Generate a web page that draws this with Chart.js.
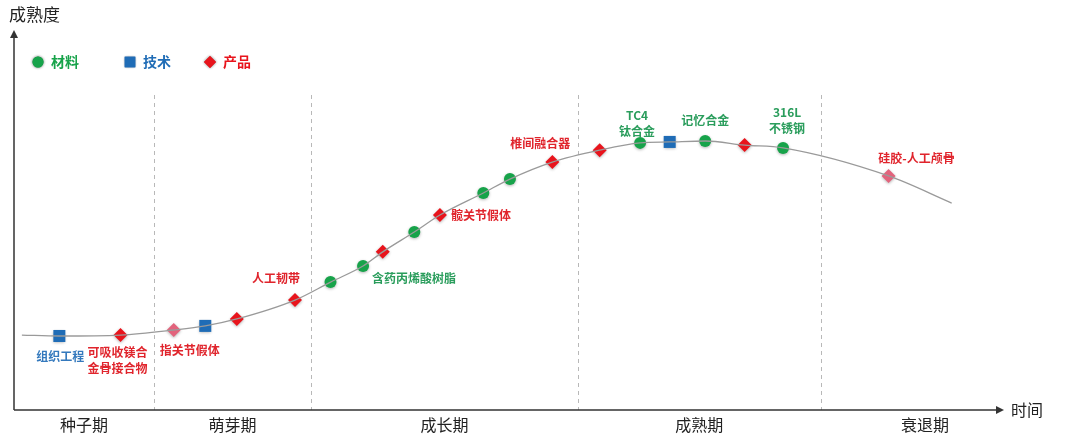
<!DOCTYPE html>
<html>
<head>
<meta charset="utf-8">
<title>成熟度曲线</title>
<script src="https://cdn.jsdelivr.net/npm/chart.js@4/dist/chart.umd.min.js"></script>
<style>
  html, body { margin: 0; padding: 0; background: #fff; }
  #wrap { width: 1080px; height: 443px; position: relative; }
</style>
</head>
<body>
<div id="wrap"><canvas id="lifeChart"></canvas></div>
<script>
// curve (x = time, y = maturity, both 0..100)
const curveX = [0.8, 4.6, 10.8, 16.2, 19.4, 22.6, 28.5, 32.1, 35.4, 37.4, 40.6, 43.2, 47.6, 50.3, 54.6, 59.4, 63.5, 66.5, 70.1, 74.1, 78.0, 88.7, 95.1];
const curveY = [23.8, 23.5, 23.8, 25.4, 26.7, 28.9, 34.9, 40.6, 45.7, 50.2, 56.5, 61.9, 68.9, 73.3, 78.7, 82.5, 84.8, 85.1, 85.4, 84.1, 83.2, 74.3, 65.7];

// 材料
const materialX = [32.1, 35.4, 40.6, 47.6, 50.3, 63.5, 70.1, 78.0];
const materialY = [40.6, 45.7, 56.5, 68.9, 73.3, 84.8, 85.4, 83.2];
const materialLabels = ['', '含药丙烯酸树脂', '', '', '', 'TC4\n钛合金', '记忆合金', '316L\n不锈钢'];

// 技术
const techX = [4.6, 19.4, 66.5];
const techY = [23.5, 26.7, 85.1];
const techLabels = ['组织工程', '', ''];

// 产品
const productX = [10.8, 16.2, 22.6, 28.5, 37.4, 43.2, 54.6, 59.4, 74.1, 88.7];
const productY = [23.8, 25.4, 28.9, 34.9, 50.2, 61.9, 78.7, 82.5, 84.1, 74.3];
const productLabels = ['可吸收镁合\n金骨接合物', '指关节假体', '', '人工韧带', '', '髋关节假体', '椎间融合器', '', '', '硅胶-人工颅骨'];
const productFaded = [false, true, false, false, false, false, false, false, false, true];

const phases = ['种子期', '萌芽期', '成长期', '成熟期', '衰退期'];
const phaseBounds = [0, 14.2, 30.1, 57.2, 81.8, 103];

const GREEN = '#17a34a', BLUE = '#1f6cb6', RED = '#e8141c', PINK = '#e2637c';
const FONT = '"Noto Sans CJK SC", "Noto Sans", sans-serif';

function pts(xs, ys) { return xs.map((x, i) => ({ x: x, y: ys[i] })); }

// label placement, px offsets from the marker
const labelPos = {
  material: { 1: [51, 12, 'center'], 5: [-3, -27, 'center'], 6: [0, -21, 'center'], 7: [4, -35, 'center'] },
  tech: { 0: [1, 20, 'center'] },
  product: { 0: [-3, 17, 'center'], 1: [16, 20, 'center'], 3: [-19, -22, 'center'], 5: [11, 0, 'left'], 6: [-12, -19, 'center'], 9: [28, -18, 'center'] }
};

const decor = {
  id: 'decor',
  beforeDatasetsDraw(chart) {
    const { ctx, chartArea, scales } = chart;
    ctx.save();
    ctx.strokeStyle = '#b8b8b8';
    ctx.lineWidth = 1;
    ctx.setLineDash([4, 4]);
    for (let i = 1; i < phaseBounds.length - 1; i++) {
      const x = Math.round(scales.x.getPixelForValue(phaseBounds[i])) + 0.5;
      ctx.beginPath();
      ctx.moveTo(x, chartArea.top);
      ctx.lineTo(x, chartArea.bottom);
      ctx.stroke();
    }
    ctx.restore();
  },
  beforeDatasetDraw(chart, args) {
    if (args.index > 0) {
      chart.ctx.save();
      chart.ctx.shadowColor = 'rgba(0,0,0,0.3)';
      chart.ctx.shadowBlur = 3;
      chart.ctx.shadowOffsetY = 1;
    }
  },
  afterDatasetDraw(chart, args) {
    if (args.index > 0) chart.ctx.restore();
  },
  afterDraw(chart) {
    const { ctx, chartArea, scales } = chart;
    const left = chartArea.left, bottom = chartArea.bottom;
    ctx.save();
    // axes with arrows
    ctx.strokeStyle = '#333';
    ctx.fillStyle = '#333';
    ctx.lineWidth = 1.5;
    ctx.setLineDash([]);
    ctx.beginPath();
    ctx.moveTo(left, bottom);
    ctx.lineTo(left, 36);
    ctx.moveTo(left, bottom);
    ctx.lineTo(997, bottom);
    ctx.stroke();
    ctx.beginPath();
    ctx.moveTo(left, 30); ctx.lineTo(left - 4, 38); ctx.lineTo(left + 4, 38); ctx.closePath(); ctx.fill();
    ctx.beginPath();
    ctx.moveTo(1004, bottom); ctx.lineTo(996, bottom - 4); ctx.lineTo(996, bottom + 4); ctx.closePath(); ctx.fill();

    ctx.fillStyle = '#222';
    ctx.font = '17px ' + FONT;
    ctx.textBaseline = 'middle';
    ctx.textAlign = 'left';
    ctx.fillText('成熟度', 9, 15);
    ctx.font = '16px ' + FONT;
    ctx.fillText('时间', 1011, bottom);

    // phase names
    ctx.textAlign = 'center';
    ctx.font = '16px ' + FONT;
    phases.forEach((p, i) => {
      const cx = scales.x.getPixelForValue((phaseBounds[i] + phaseBounds[i + 1]) / 2);
      ctx.fillText(p, cx, 425);
    });

    // legend
    const items = [['材料', GREEN, 'circle', 38, 5.5], ['技术', BLUE, 'rect', 130, 7.5], ['产品', RED, 'rectRot', 210, 6]];
    ctx.font = 'bold 14px ' + FONT;
    ctx.textAlign = 'left';
    items.forEach(([txt, col, style, x, r]) => {
      ctx.save();
      ctx.shadowColor = 'rgba(0,0,0,0.3)';
      ctx.shadowBlur = 3;
      ctx.fillStyle = col;
      Chart.helpers.drawPoint(ctx, { pointStyle: style, radius: r, borderWidth: 0 }, x, 62);
      ctx.fill();
      ctx.restore();
      ctx.fillStyle = col;
      ctx.fillText(txt, x + 13, 62);
    });

    // point labels
    ctx.font = 'bold 12px ' + FONT;
    const groups = [
      ['material', 1, materialLabels, '#2a9d5c'],
      ['tech', 2, techLabels, '#3479bd'],
      ['product', 3, productLabels, '#e0242c']
    ];
    groups.forEach(([key, dsIndex, labels, col]) => {
      const meta = chart.getDatasetMeta(dsIndex);
      labels.forEach((txt, i) => {
        if (!txt) return;
        const el = meta.data[i];
        const [dx, dy, align] = labelPos[key][i];
        ctx.fillStyle = col;
        ctx.textAlign = align;
        txt.split('\n').forEach((line, j) => {
          ctx.fillText(line, el.x + dx, el.y + dy + j * 16);
        });
      });
    });
    ctx.restore();
  }
};

new Chart(document.getElementById('lifeChart'), {
  type: 'scatter',
  data: {
    datasets: [
      {
        label: 'curve',
        data: pts(curveX, curveY),
        showLine: true,
        borderColor: '#9a9a9a',
        borderWidth: 1.3,
        pointRadius: 0,
        cubicInterpolationMode: 'monotone'
      },
      {
        label: '材料',
        data: pts(materialX, materialY),
        pointStyle: 'circle',
        pointRadius: 6,
        backgroundColor: GREEN,
        borderWidth: 0
      },
      {
        label: '技术',
        data: pts(techX, techY),
        pointStyle: 'rect',
        pointRadius: 8.5,
        backgroundColor: BLUE,
        borderWidth: 0
      },
      {
        label: '产品',
        data: pts(productX, productY),
        pointStyle: 'rectRot',
        pointRadius: 7,
        backgroundColor: productFaded.map(f => f ? PINK : RED),
        borderWidth: 0
      }
    ]
  },
  options: {
    responsive: true,
    maintainAspectRatio: false,
    animation: false,
    layout: { padding: { left: 14, right: 80, top: 95, bottom: 33 } },
    scales: {
      x: { type: 'linear', min: 0, max: 100, display: false },
      y: { type: 'linear', min: 0, max: 100, display: false }
    },
    plugins: {
      legend: { display: false },
      tooltip: { enabled: false }
    }
  },
  plugins: [decor]
});
</script>
</body>
</html>
